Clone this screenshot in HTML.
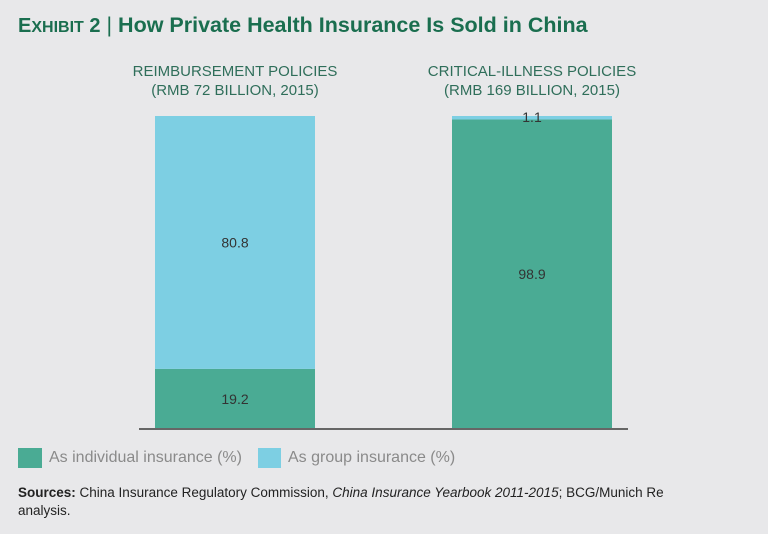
<!DOCTYPE html>
<html><head><meta charset="utf-8"><style>
body{margin:0;width:768px;height:534px;background:#e8e8ea;font-family:"Liberation Sans",sans-serif;overflow:hidden;position:relative}
.t{position:absolute;white-space:nowrap}
</style></head><body>
<div class="t" style="left:18px;top:13px;font-size:21.5px;font-weight:bold;color:#1a6e4f"><span style="font-size:20px">E<span style="font-size:16px">XHIBIT</span> 2</span> <span style="font-weight:normal">|</span> How Private Health Insurance Is Sold in China</div>
<svg width="768" height="534" style="position:absolute;left:0;top:0">
<g id="g"></g>
</svg>
<div class="t" style="left:18px;top:448px;font-size:16px;color:#8a8a8a"><span style="display:inline-block;width:24px;height:20px;background:#4aab94;vertical-align:middle;margin-right:7px"></span>As individual insurance (%)</div>
<div class="t" style="left:258px;top:448px;font-size:16px;color:#8a8a8a"><span style="display:inline-block;width:23px;height:20px;background:#7dcfe3;vertical-align:middle;margin-right:7px"></span>As group insurance (%)</div>
<div class="t" style="left:18px;top:484px;font-size:13.5px;line-height:18px;color:#222;white-space:normal;width:660px"><b>Sources:</b> China Insurance Regulatory Commission, <i>China Insurance Yearbook 2011-2015</i>; BCG/Munich Re analysis.</div>
<script>
const categories=["REIMBURSEMENT POLICIES|(RMB 72 BILLION, 2015)","CRITICAL-ILLNESS POLICIES|(RMB 169 BILLION, 2015)"];
const individual=[19.2,98.9];
const group=[80.8,1.1];
const NS="http://www.w3.org/2000/svg",g=document.getElementById('g');
const x0=[155,452],bw=160,baseY=429,topY=116;
const y=v=>baseY-(v/100)*(baseY-topY);
function el(t,a){const e=document.createElementNS(NS,t);for(const k in a)e.setAttribute(k,a[k]);g.appendChild(e);return e;}
categories.forEach((c,i)=>{
 const x=x0[i];
 let r=el('rect',{x:x,y:y(individual[i]),width:bw,height:baseY-y(individual[i]),fill:'#4aab94'});
 
 
 let r2=el('rect',{x:x,y:y(individual[i]+group[i]),width:bw,height:y(individual[i])-y(individual[i]+group[i]),fill:'#7dcfe3'});
 
 
 const cx=x+bw/2;
 let t1=el('text',{x:cx,y:(y(individual[i])+baseY)/2+5,'text-anchor':'middle','font-size':14,fill:'#333'});t1.textContent=individual[i];
 
 
 const gh=y(individual[i])-y(100);
 let ty=gh>20?(y(100)+y(individual[i]))/2+5:y(100)+6;
 let t2=el('text',{x:cx,y:ty,'text-anchor':'middle','font-size':14,fill:'#333'});t2.textContent=group[i];
 
 
 c.split('|').forEach((s,j)=>{let t=el('text',{x:cx,y:76+j*19,'text-anchor':'middle','font-size':15,fill:'#2f6e5a'});t.textContent=s;
 
 });
});
let ax=el('line',{x1:139,x2:628,y1:baseY,y2:baseY,stroke:'#666','stroke-width':2});


</script>
</body></html>
